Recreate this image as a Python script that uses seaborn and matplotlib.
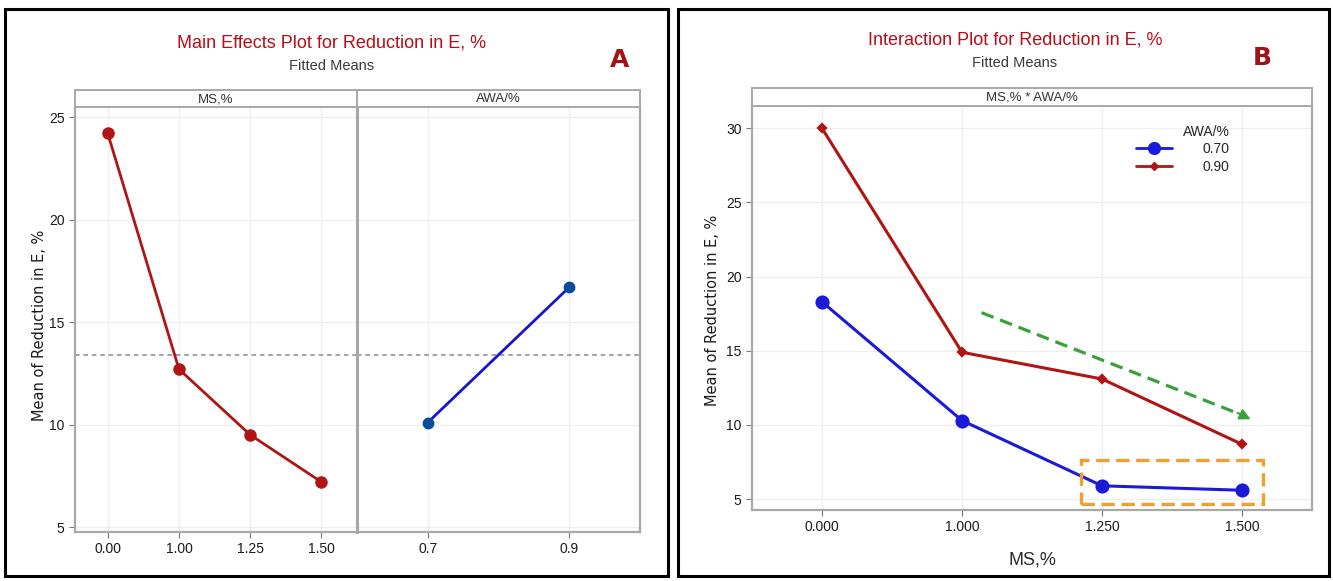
"""Main effects and interaction plots for Reduction in E, %."""

import matplotlib

matplotlib.use("Agg")

import matplotlib.pyplot as plt
import pandas as pd
import seaborn as sns
from matplotlib.lines import Line2D
from matplotlib.patches import Rectangle

# データ
ms_levels = ["0.00", "1.00", "1.25", "1.50"]
ms_means = [24.2, 12.7, 9.5, 7.2]
awa_levels = ["0.7", "0.9"]
awa_means = [10.1, 16.7]
overall_mean = 13.4

ms_levels_b = ["0.000", "1.000", "1.250", "1.500"]
awa_groups = ["0.70", "0.90"]
fit_070 = [18.3, 10.3, 5.9, 5.6]
fit_090 = [30.0, 14.9, 13.1, 8.7]

W, H = 1333, 581
NARROW = ["Liberation Sans Narrow", "Liberation Sans", "DejaVu Sans"]
DARK_RED = "#BA0C16"
RED = "#B01414"
BLUE = "#1515D0"
GRID = "#EFEFEF"
SPINE = "#A8A8A8"

sns.set_theme(style="white")
plt.rcParams["font.family"] = NARROW


def box(x0, y0, x1, y1):
    """ピクセル座標からfigure座標の矩形へ."""
    return [x0 / W, 1 - y1 / H, (x1 - x0) / W, (y1 - y0) / H]


def style_axes(ax):
    for s in ax.spines.values():
        s.set_color(SPINE)
        s.set_linewidth(1.6)
    ax.spines["top"].set_visible(False)
    ax.grid(True, color=GRID, linewidth=0.9)
    ax.set_axisbelow(True)
    ax.tick_params(axis="both", which="both", direction="out", length=4,
                   width=0.8, color="#777777", labelsize=10,
                   labelcolor="#1a1a1a", left=True, bottom=True)
    ax.set_xlabel("")
    ax.set_ylabel("")


def strip(rect, text):
    sax = fig.add_axes(box(*rect))
    sax.set_xticks([])
    sax.set_yticks([])
    for s in sax.spines.values():
        s.set_color(SPINE)
        s.set_linewidth(1.4)
    sax.set_facecolor("white")
    sax.text(0.5, 0.45, text, ha="center", va="center", fontsize=9.5,
             color="#333333", transform=sax.transAxes)


fig = plt.figure(figsize=(W / 100, H / 100), dpi=100)

# パネル枠
for x0, x1 in [(5, 668), (678, 1329)]:
    fig.patches.append(Rectangle((x0 / W, 1 - 576 / H), (x1 - x0) / W,
                                 (576 - 9) / H, transform=fig.transFigure,
                                 fill=False, ec="black", lw=2.2))

# --- A: Main effects ---
ax1 = fig.add_axes(box(75, 107, 357, 532))
ax2 = fig.add_axes(box(357, 107, 640, 532))

sns.pointplot(x=ms_levels, y=ms_means, color=RED, markers="o",
              markersize=7.5, linewidth=2, ax=ax1)
sns.pointplot(x=awa_levels, y=awa_means, color=BLUE, markers="o",
              markersize=7, linewidth=2, ax=ax2)
for ln in ax2.lines:
    ln.set_markerfacecolor("#0A4C9A")
    ln.set_markeredgecolor("#0A4C9A")

for ax in (ax1, ax2):
    style_axes(ax)
    ax.set_ylim(4.76, 25.49)
    ax.set_yticks([5, 10, 15, 20, 25])
    ax.axhline(overall_mean, color="#8a8a8a", ls=(0, (3, 2.5)), lw=1.1,
               zorder=1)
ax1.set_xlim(-0.46, 3.5)
ax2.set_xlim(-0.5, 1.5)
ax2.tick_params(axis="y", left=False, labelleft=False)
ax1.spines["right"].set_linewidth(2.2)
ax2.spines["left"].set_linewidth(2.2)

strip((75, 90, 357, 107), "MS,%")
strip((357, 90, 640, 107), "AWA/%")

fig.text(40 / W, 1 - 325 / H, "Mean of Reduction in E, %", rotation=90,
         ha="center", va="center", fontsize=10.5, family="DejaVu Sans",
         color="#1a1a1a")
fig.text(332 / W, 1 - 43 / H, "Main Effects Plot for Reduction in E, %",
         ha="center", va="center", fontsize=13, color=DARK_RED)
fig.text(332 / W, 1 - 66 / H, "Fitted Means", ha="center", va="center",
         fontsize=10.5, color="#3a3a3a")
fig.text(620 / W, 1 - 60 / H, "A", ha="center", va="center", fontsize=18,
         fontweight="bold", color="#A01318", family="DejaVu Sans")

# --- B: Interaction ---
df_b = pd.DataFrame({
    "MS": ms_levels_b * 2,
    "AWA": [awa_groups[0]] * 4 + [awa_groups[1]] * 4,
    "fit": fit_070 + fit_090,
})

axb = fig.add_axes(box(752, 106, 1312, 510))
sns.pointplot(data=df_b, x="MS", y="fit", hue="AWA", order=ms_levels_b,
              hue_order=awa_groups, palette=[BLUE, RED], markers=["o", "D"],
              linestyles=["-", "-"], linewidth=2.2, ax=axb, legend=False)
for ln in axb.lines:
    if ln.get_marker() == "o":
        ln.set_markersize(8.5)
        ln.set_color("#1a1ad8")
    elif ln.get_marker() == "D":
        ln.set_markersize(4.5)
        ln.set_color(RED)

style_axes(axb)
axb.set_xlim(-0.5, 3.5)
axb.set_ylim(4.27, 31.5)
axb.set_yticks([5, 10, 15, 20, 25, 30])
axb.set_xlabel("MS,%", fontsize=13, color="#2a2a2a", labelpad=12)

# 緑の破線矢印
axb.plot([1.14, 2.98], [17.57, 10.75], color="#3AA03A", lw=2.3,
         ls=(0, (4, 2.2)))
axb.annotate("", xy=(3.08, 10.3), xytext=(2.95, 10.9),
             arrowprops=dict(arrowstyle="-|>", color="#3AA03A", lw=1.5,
                             mutation_scale=16))
# オレンジの破線枠
axb.add_patch(Rectangle((1.85, 4.65), 1.30, 2.97, fill=False,
                        ec="#F0A030", lw=2.4, ls=(0, (4, 2)), zorder=5))

handles = [
    Line2D([], [], color="#1a1ad8", lw=2, marker="o", markersize=8.5),
    Line2D([], [], color=RED, lw=2, marker="D", markersize=4.5),
]
leg = axb.legend(handles, awa_groups, title="AWA/%", loc="upper right",
                 bbox_to_anchor=(0.875, 0.985), frameon=False, fontsize=10,
                 title_fontsize=10, alignment="right", handlelength=2.6,
                 handletextpad=2.2, labelspacing=0.25)

strip((752, 88, 1312, 106), "MS,% * AWA/%")

fig.text(713 / W, 1 - 310 / H, "Mean of Reduction in E, %", rotation=90,
         ha="center", va="center", fontsize=10.5, family="DejaVu Sans",
         color="#1a1a1a")
fig.text(1015 / W, 1 - 40 / H, "Interaction Plot for Reduction in E, %",
         ha="center", va="center", fontsize=13, color=DARK_RED)
fig.text(1015 / W, 1 - 63 / H, "Fitted Means", ha="center", va="center",
         fontsize=10.5, color="#3a3a3a")
fig.text(1262 / W, 1 - 58 / H, "B", ha="center", va="center", fontsize=18,
         fontweight="bold", color="#A01318", family="DejaVu Sans")

fig.savefig("out.png", dpi=100)
